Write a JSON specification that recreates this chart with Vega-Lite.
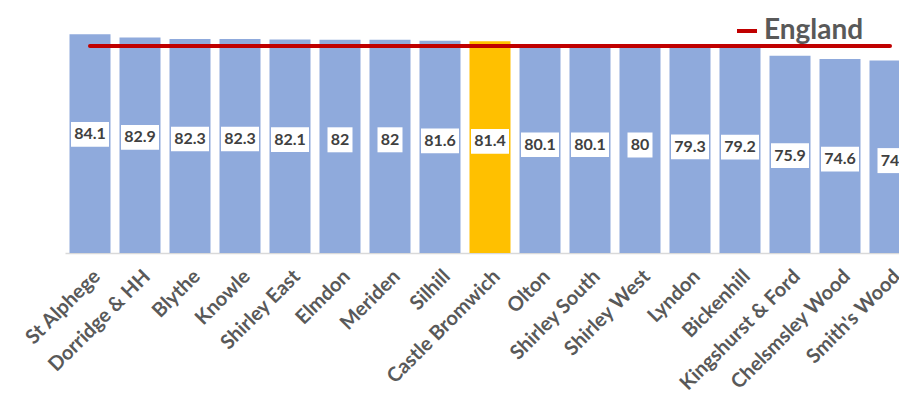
{
  "$schema": "https://vega.github.io/schema/vega-lite/v6.json",
  "width": 834,
  "height": 234,
  "autosize": "none",
  "padding": {"left": 65, "top": 19, "right": 0, "bottom": 147},
  "background": "white",
  "config": {"view": {"stroke": null}, "font": "Lato"},
  "data": {
    "values": [
      {"name": "St Alphege", "value": 84.1},
      {"name": "Dorridge & HH", "value": 82.9},
      {"name": "Blythe", "value": 82.3},
      {"name": "Knowle", "value": 82.3},
      {"name": "Shirley East", "value": 82.1},
      {"name": "Elmdon", "value": 82},
      {"name": "Meriden", "value": 82},
      {"name": "Silhill", "value": 81.6},
      {"name": "Castle Bromwich", "value": 81.4},
      {"name": "Olton", "value": 80.1},
      {"name": "Shirley South", "value": 80.1},
      {"name": "Shirley West", "value": 80},
      {"name": "Lyndon", "value": 79.3},
      {"name": "Bickenhill", "value": 79.2},
      {"name": "Kingshurst & Ford", "value": 75.9},
      {"name": "Chelsmsley Wood", "value": 74.6},
      {"name": "Smith's Wood", "value": 74}
    ]
  },
  "encoding": {
    "x": {
      "field": "name",
      "type": "nominal",
      "sort": null,
      "scale": {"range": [0, 850], "paddingInner": 0.18, "paddingOuter": 0.09},
      "axis": {
        "title": null,
        "labelAngle": -45,
        "labelFontSize": 20,
        "labelFontWeight": "bold",
        "labelColor": "#595959",
        "labelFont": "Lato",
        "ticks": false,
        "domainColor": "#d9d9d9",
        "domainWidth": 1.5,
        "labelPadding": 13,
        "labelOverlap": false,
        "labelLimit": 0
      }
    }
  },
  "layer": [
    {
      "mark": {"type": "bar"},
      "encoding": {
        "y": {"field": "value", "type": "quantitative", "scale": {"domain": [0, 90]}, "axis": null},
        "color": {
          "condition": {"test": "datum.name === 'Castle Bromwich'", "value": "#ffc000"},
          "value": "#8faadc"
        }
      }
    },
    {
      "mark": {"type": "line", "strokeWidth": 4, "strokeCap": "round"},
      "encoding": {
        "y": {"datum": 79.6},
        "color": {
          "datum": "England",
          "type": "nominal",
          "scale": {"range": ["#c00000"]},
          "legend": {
            "orient": "none",
            "legendX": 668,
            "legendY": -2,
            "title": null,
            "symbolType": "stroke",
            "symbolStrokeWidth": 4,
            "symbolSize": 400,
            "labelFont": "Lato",
            "labelFontWeight": "bold",
            "labelFontSize": 28,
            "labelColor": "#595959",
            "labelOffset": 3
          }
        }
      }
    },
    {
      "transform": [{"filter": "datum.value != floor(datum.value)"}],
      "mark": {"type": "point", "filled": true, "opacity": 1, "color": "white", "yOffset": 100, "shape": "M-1,-0.65L1,-0.65L1,0.65L-1,0.65Z", "size": 1444},
      "encoding": {"y": {"field": "value", "type": "quantitative"}}
    },
    {
      "transform": [{"filter": "datum.value == floor(datum.value)"}],
      "mark": {"type": "point", "filled": true, "opacity": 1, "color": "white", "yOffset": 100, "shape": "square", "size": 625},
      "encoding": {"y": {"field": "value", "type": "quantitative"}}
    },
    {
      "mark": {"type": "text", "yOffset": 100, "font": "Lato", "fontWeight": "bold", "fontSize": 16, "color": "#404040", "baseline": "middle"},
      "encoding": {
        "y": {"field": "value", "type": "quantitative"},
        "text": {"field": "value", "type": "quantitative"}
      }
    }
  ]
}
